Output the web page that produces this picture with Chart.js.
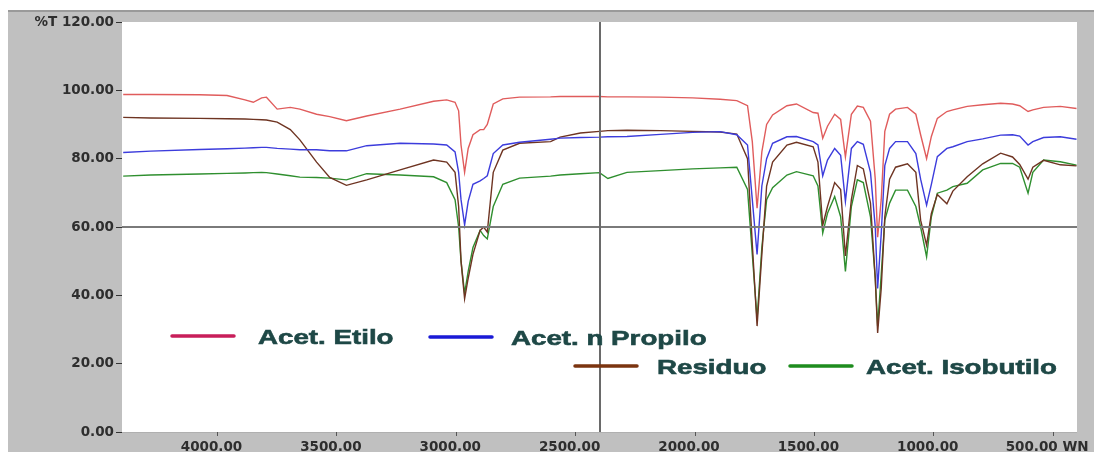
<!DOCTYPE html>
<html><head><meta charset="utf-8">
<script src="https://cdn.jsdelivr.net/npm/chart.js@4.4.1/dist/chart.umd.min.js"></script>
<style>html,body{margin:0;padding:0;background:#fff;overflow:hidden}#wrap{width:1094px;height:452px}</style>
</head><body><div id="wrap"><canvas id="c" width="1094" height="452"></canvas></div>
<script>
// Wavenumber grid (cm-1)
const wavenumbers = [4395,4280,4075,3960,3885,3850,3815,3795,3750,3695,3655,3585,3530,3460,3375,3235,3095,3040,3005,2990,2980,2965,2950,2930,2900,2885,2870,2845,2805,2735,2605,2565,2480,2400,2365,2285,2145,2010,1895,1825,1780,1760,1740,1720,1700,1675,1615,1575,1505,1485,1465,1445,1415,1390,1370,1345,1320,1295,1265,1245,1235,1220,1205,1185,1160,1110,1075,1055,1030,1010,985,945,920,860,795,720,670,640,605,585,540,470,402];
// %T values
const acetEtilo = [98.8,98.8,98.7,98.5,97.2,96.5,97.8,98.0,94.5,95.0,94.5,93.0,92.3,91.1,92.5,94.5,96.8,97.2,96.5,94,84,76,83,87,88.5,88.5,90,96,97.5,98.0,98.1,98.2,98.2,98.2,98.1,98.1,98.0,97.8,97.4,97.0,95.5,85,65.5,82,90,92.8,95.5,96.0,93.5,93.3,86,89.5,93,91.5,80.5,93,95.4,95.0,91,74,57,68,88,93,94.5,95.0,93,87,80,86.5,91.8,93.8,94.3,95.3,95.8,96.2,96.0,95.5,93.8,94.3,95.0,95.3,94.7];
const acetPropilo = [81.8,82.2,82.7,82.9,83.1,83.2,83.3,83.3,83.0,82.8,82.6,82.6,82.3,82.3,83.8,84.5,84.3,84.0,82.0,76,68,60.6,67.5,72.5,73.5,74.2,75,81.5,84.0,84.8,85.7,86.0,86.2,86.3,86.4,86.5,87.1,87.7,87.9,87.0,84,68,52,72,80,84.5,86.4,86.5,85.0,84,75,79.6,83,81,67.5,83,85.0,84.2,76,60,42,58,78,83,85.0,85.0,81.5,74,66.4,72.5,80.6,83,83.5,85,85.8,86.9,87.0,86.6,84.0,85.0,86.2,86.4,85.7];
const residuo = [92.1,91.9,91.8,91.7,91.6,91.5,91.4,91.3,90.7,88.5,85.5,79,74.5,72.2,73.8,76.7,79.6,79.0,76,66,50,39,45,52,59,60,58.5,76,82.5,84.5,85.0,86.3,87.5,88.0,88.2,88.3,88.2,88.0,87.8,87.2,80,55,31,52,72,79,84.0,84.8,83.5,79,60.5,66,73,71,51.5,68,78,77,67,45,29,42,63,74,77.5,78.5,76,62,54.7,64,69.5,66.8,70.5,74.7,78.5,81.6,80.5,78.3,74,77.5,79.5,78.2,77.9];
const acetIsobutilo = [74.9,75.2,75.5,75.7,75.8,75.9,76.0,75.9,75.5,75.0,74.6,74.5,74.3,73.8,75.6,75.2,74.7,73.0,68,60,50,40.6,47,54,59,57.5,56.5,66,72.5,74.3,74.9,75.2,75.6,75.9,74.2,76.0,76.5,77.0,77.3,77.5,71,52,33,54,68,71.5,75.2,76.2,75,72,58.2,64,68.9,63,47,66,73.8,73,63,45,31,46,62,67,70.8,70.8,66,60,51.3,63,69.9,70.8,71.8,72.8,76.7,78.6,78.6,77.5,69.9,76,79.6,79.1,78.1];

const seriesNames = ['Acet. Etilo','Acet. n Propilo','Residuo','Acet. Isobutilo'];
const xTickValues = [4000,3500,3000,2500,2000,1500,1000,500];
const yTickValues = [0,20,40,60,80,100,120];
const xUnit = 'WN';
const yUnit = '%T';
const cursorWavenumber = 2400;
const cursorT = 60;

const toPts = arr => wavenumbers.map((w,i)=>({x:w,y:arr[i]}));
const lineColors = ['#e05c5c','#3c3cdc','#6e3422','#2f8f2f'];
const legendColors = ['#c81e5a','#1a1ad6','#7b3410','#1e8c1e'];
const seriesData = [acetEtilo, acetPropilo, residuo, acetIsobutilo];

const bgPlugin = {
  id:'bg',
  beforeDraw(chart){
    const {ctx, width, height, chartArea:a} = chart;
    ctx.save();
    ctx.fillStyle='#ffffff'; ctx.fillRect(0,0,width,height);
    ctx.fillStyle='#c0c0c0'; ctx.fillRect(8,10,width-8,height-10);
    ctx.fillStyle='#9a9a9a'; ctx.fillRect(8,10,width-8,2);
    ctx.fillStyle='#ffffff'; ctx.fillRect(a.left,a.top,a.right-a.left,a.bottom-a.top);
    ctx.strokeStyle='#b0b0b0'; ctx.lineWidth=1;
    ctx.beginPath(); ctx.moveTo(a.left,a.bottom+0.5); ctx.lineTo(a.right,a.bottom+0.5); ctx.stroke();
    ctx.restore();
  }
};
const cursorPlugin = {
  id:'cursor',
  afterDatasetsDraw(chart){
    const {ctx, chartArea:a, scales:{x,y}} = chart;
    const px = Math.round(x.getPixelForValue(cursorWavenumber));
    const py = Math.round(y.getPixelForValue(cursorT));
    ctx.save();
    ctx.fillStyle='#7a7a7a';
    ctx.fillRect(a.left, py-1, a.right-a.left, 2);
    ctx.fillStyle='#6a6a6a';
    ctx.fillRect(px-1, a.top, 2, a.bottom-a.top);
    ctx.restore();
  }
};
const legendPlugin = {
  id:'customLegend',
  afterDraw(chart){
    const ctx = chart.ctx;
    const items = [
      {lx:172, ly:336, tx:258},
      {lx:430, ly:337, tx:511},
      {lx:575, ly:366, tx:657},
      {lx:790, ly:366, tx:866}
    ];
    ctx.save();
    chart.data.datasets.forEach((ds,i)=>{
      const it = items[i];
      ctx.strokeStyle = ds.legendColor; ctx.lineWidth = 3.5; ctx.lineCap='round';
      ctx.beginPath(); ctx.moveTo(it.lx, it.ly); ctx.lineTo(it.lx+62, it.ly); ctx.stroke();
      ctx.save();
      ctx.translate(it.tx, it.ly+7.5);
      ctx.scale(1.32,1);
      ctx.font = 'bold 21px "Liberation Sans", Arial, sans-serif';
      ctx.fillStyle = '#1e4846';
      ctx.strokeStyle = '#1e4846';
      ctx.lineWidth = 0.6;
      ctx.textBaseline = 'alphabetic';
      ctx.textAlign = 'left';
      ctx.fillText(ds.label, 0, 0);
      ctx.strokeText(ds.label, 0, 0);
      ctx.restore();
    });
    ctx.restore();
  }
};

const tickFont = {family:'"DejaVu Sans", sans-serif', size:13.5, weight:'bold'};

new Chart(document.getElementById('c'), {
  type:'line',
  data:{
    datasets: seriesData.map((arr,i)=>({
      label: seriesNames[i],
      data: toPts(arr),
      borderColor: lineColors[i],
      legendColor: legendColors[i],
      borderWidth: 1.4,
      pointRadius: 0,
      tension: 0,
      fill: false
    }))
  },
  options:{
    responsive:false,
    devicePixelRatio:1,
    animation:false,
    layout:{padding:{left:0,right:17,top:22,bottom:0}},
    plugins:{legend:{display:false}, tooltip:{enabled:false}},
    scales:{
      x:{
        type:'linear', reverse:true, min:400, max:4400,
        afterBuildTicks(s){ s.ticks = xTickValues.map(v=>({value:v})); },
        afterFit(s){ s.height = 20; s.paddingLeft=0; s.paddingRight=0; },
        grid:{display:true, drawOnChartArea:false, drawTicks:true, tickLength:4, tickColor:'#555', lineWidth:1},
        border:{display:false},
        ticks:{
          font:tickFont, color:'#2e2e2e', padding:3, maxRotation:0, autoSkip:false, labelOffset:-6,
          callback:(v)=> v===500 ? v.toFixed(2)+' '+xUnit : Number(v).toFixed(2)
        }
      },
      y:{
        min:0, max:120,
        afterBuildTicks(s){ s.ticks = yTickValues.map(v=>({value:v})); },
        afterFit(s){ s.width = 122; s.paddingTop=0; s.paddingBottom=0; },
        grid:{display:true, drawOnChartArea:false, drawTicks:true, tickLength:6, tickColor:'#333', lineWidth:1},
        border:{display:false},
        ticks:{
          font:tickFont, color:'#2e2e2e', padding:2,
          callback:(v)=> v===120 ? yUnit+' '+v.toFixed(2) : Number(v).toFixed(2)
        }
      }
    }
  },
  plugins:[bgPlugin, cursorPlugin, legendPlugin]
});
</script>
</body></html>
